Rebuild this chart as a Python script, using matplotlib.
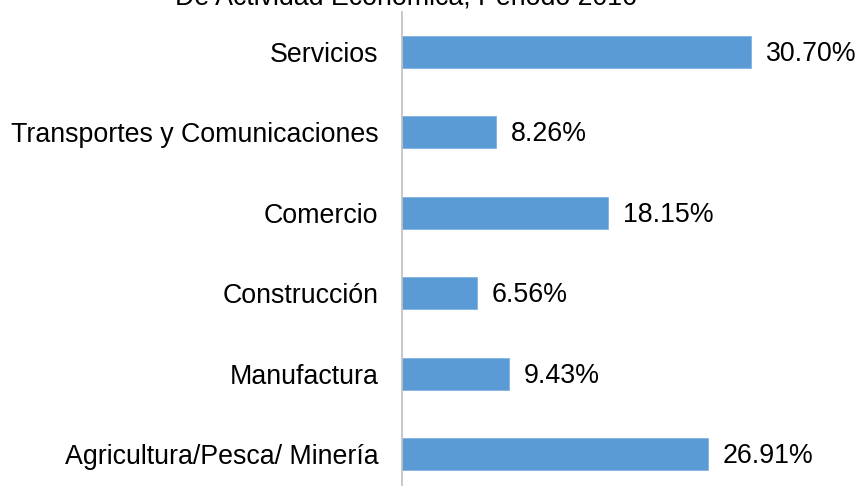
import matplotlib
matplotlib.use("Agg")
import matplotlib.pyplot as plt
import matplotlib.transforms as mtransforms

categories = ["Agricultura/Pesca/ Minería", "Manufactura", "Construcción",
              "Comercio", "Transportes y Comunicaciones", "Servicios"]
values = [26.91, 9.43, 6.56, 18.15, 8.26, 30.70]
labels = ["26.91%", "9.43%", "6.56%", "18.15%", "8.26%", "30.70%"]
title = "De Actividad Económica, Periodo 2016"

plt.rcParams['font.family'] = ['Liberation Sans', 'DejaVu Sans']

W, H = 860, 486
fig = plt.figure(figsize=(W/100, H/100), dpi=100)
ax = fig.add_axes([402/W, (486-494.2)/H, 458/W, 482.4/H])

y = list(range(len(categories)))
ax.barh(y, values, height=0.4, color="#5B9BD5", edgecolor="#7FB2E0", linewidth=0.6)
ax.set_ylim(-0.5, 5.5)
ax.set_xlim(0, 458/11.37)

down = mtransforms.ScaledTranslation(0, -2/100, fig.dpi_scale_trans)
for yi, v, lab in zip(y, values, labels):
    ax.text(v + 15/11.37, yi, lab, va='center', ha='left', fontsize=19.3,
            color='#000000', transform=ax.transData + down)

ax.set_yticks(y)
ax.set_yticklabels(categories, fontsize=19.3)
up = mtransforms.ScaledTranslation(0, 1.5/100, fig.dpi_scale_trans)
for t in ax.get_yticklabels():
    t.set_transform(t.get_transform() + up)
ax.tick_params(axis='y', length=0, pad=17)
ax.set_xticks([])
for s in ['top', 'right', 'bottom']:
    ax.spines[s].set_visible(False)
ax.spines['left'].set_color('#BFBFBF')
ax.spines['left'].set_linewidth(1.2)
ax.patch.set_visible(False)

fig.text(406/W, 1 - 4.5/H, title, ha='center', va='baseline', fontsize=19.3)

fig.savefig("out.png", dpi=100)
